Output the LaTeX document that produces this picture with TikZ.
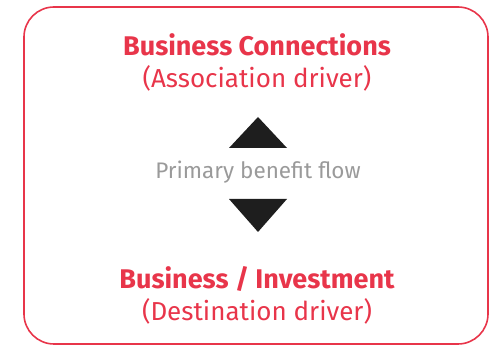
\documentclass[tikz,border=0pt]{standalone}
\usepackage{fontspec}
\setmainfont{Fira Sans}
\definecolor{brandred}{HTML}{E8354A}
\definecolor{flowgray}{HTML}{9A9A9A}
\definecolor{tri}{HTML}{1E1E1E}
\begin{document}
\begin{tikzpicture}[x=1pt,y=-1pt,
  frame/.style={draw=brandred,line width=1.6pt,rounded corners=30pt},
  title/.style={text=brandred,font=\fontsize{27}{30}\selectfont\bfseries,anchor=base,inner sep=0pt},
  sub/.style={text=brandred,font=\fontsize{26}{29}\selectfont,anchor=base,inner sep=0pt},
  flow/.style={text=flowgray,font=\fontsize{22.5}{25}\selectfont,anchor=base,inner sep=0pt},
  tribox/.style={fill=tri,draw=none}]
\useasboundingbox (0,0) rectangle (491,347);
\draw[frame] (24,7) rectangle (488,344);
\node[title] (t1) at (257,56) {Business Connections};
\node[sub] (s1) at (257,88) {(Association driver)};
\fill[tribox] (258,117) -- (287,148) -- (229,148) -- cycle;
\node[flow] (f) at (258,179) {Primary benefit flow};
\fill[tribox] (229,199) -- (287,199) -- (258,232) -- cycle;
\node[title] (t2) at (257,289) {Business / Investment};
\node[sub] (s2) at (257,321) {(Destination driver)};
\end{tikzpicture}
\end{document}
